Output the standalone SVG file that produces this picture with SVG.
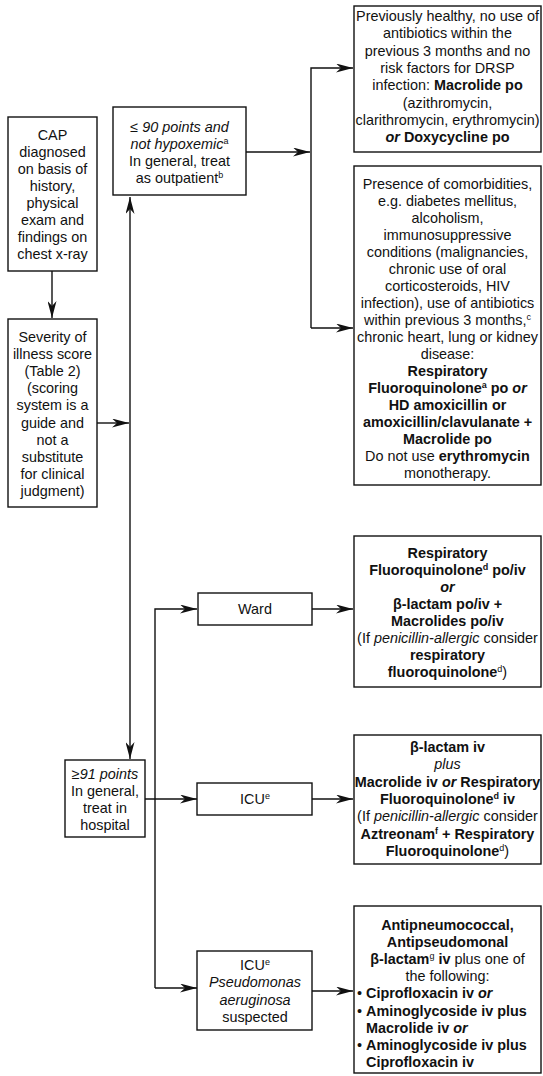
<svg xmlns="http://www.w3.org/2000/svg" width="543" height="1076" viewBox="0 0 543 1076">
<style>
text{font-family:"Liberation Sans",Arial,Helvetica,sans-serif;font-size:14.4px;fill:#111;text-anchor:middle}
text.l{text-anchor:start}
.b{font-weight:bold}
.i{font-style:italic}
.sup{font-size:9px}
rect{fill:#fff;stroke:#111;stroke-width:1.4}
.c path{fill:none;stroke:#111;stroke-width:1.4}
.arr{marker-end:url(#ah)}
</style>
<defs>
<marker id="ah" viewBox="0 0 17 9" markerWidth="17" markerHeight="9" refX="17" refY="4.5" markerUnits="userSpaceOnUse" orient="auto-start-reverse">
<path d="M0,0 L17,4.5 L0,9 L5,4.5 z" fill="#111"/>
</marker>
</defs>
<rect width="543" height="1076" style="stroke:none"/>

<g class="c" id="connectors">
<path class="arr" d="M52,271 V318"/>
<path class="arr" d="M97,423 H129"/>
<path d="M130,197 V759" style="marker-start:url(#ah);marker-end:url(#ah)"/>
<path class="arr" d="M246,152 H310"/>
<path class="arr" d="M311,328 V68 H353"/>
<path class="arr" d="M311,328 H353"/>
<path class="arr" d="M155,988 V609 H197"/>
<path class="arr" d="M155,988 H197"/>
<path class="arr" d="M145,799 H197"/>
<path class="arr" d="M312,609 H353"/>
<path class="arr" d="M312,799 H353"/>
<path class="arr" d="M312,991 H353"/>
</g>

<g id="cap">
<rect x="8" y="117" width="89" height="154"/>
<text x="52.5" y="140">CAP</text>
<text x="52.5" y="157">diagnosed</text>
<text x="52.5" y="174">on basis of</text>
<text x="52.5" y="191">history,</text>
<text x="52.5" y="208">physical</text>
<text x="52.5" y="225">exam and</text>
<text x="52.5" y="242">findings on</text>
<text x="52.5" y="259">chest x-ray</text>
</g>

<g id="severity">
<rect x="8" y="319" width="89" height="188"/>
<text x="52.5" y="342">Severity of</text>
<text x="52.5" y="359">illness score</text>
<text x="52.5" y="376">(Table 2)</text>
<text x="52.5" y="393">(scoring</text>
<text x="52.5" y="410">system is a</text>
<text x="52.5" y="427.5">guide and</text>
<text x="52.5" y="444.5">not a</text>
<text x="52.5" y="461.5">substitute</text>
<text x="52.5" y="478.5">for clinical</text>
<text x="52.5" y="495.5">judgment)</text>
</g>

<g id="outpatient">
<rect x="113" y="107" width="133" height="88"/>
<text x="179.5" y="132" class="i">≤ 90 points and</text>
<text x="179.5" y="149"><tspan class="i">not hypoxemic</tspan><tspan class="sup" dy="-5">a</tspan></text>
<text x="179.5" y="166">In general, treat</text>
<text x="179.5" y="183">as outpatient<tspan class="sup" dy="-5">b</tspan></text>
</g>

<g id="hospital">
<rect x="65" y="760" width="80" height="77"/>
<text x="105" y="779" class="i">≥91 points</text>
<text x="105" y="796">In general,</text>
<text x="105" y="813">treat in</text>
<text x="105" y="830">hospital</text>
</g>

<g id="healthy">
<rect x="354" y="6" width="187" height="146"/>
<text x="447.5" y="21">Previously healthy, no use of</text>
<text x="447.5" y="38.3">antibiotics within the</text>
<text x="447.5" y="55.6">previous 3 months and no</text>
<text x="447.5" y="72.9">risk factors for DRSP</text>
<text x="447.5" y="90.2">infection: <tspan class="b">Macrolide po</tspan></text>
<text x="447.5" y="107.5">(azithromycin,</text>
<text x="447.5" y="124.8">clarithromycin, erythromycin)</text>
<text x="447.5" y="142.1" class="b"><tspan class="i">or</tspan> Doxycycline po</text>
</g>

<g id="comorbid">
<rect x="354" y="166" width="187" height="319"/>
<text x="447.5" y="188.5">Presence of comorbidities,</text>
<text x="447.5" y="205.5">e.g. diabetes mellitus,</text>
<text x="447.5" y="222.5">alcoholism,</text>
<text x="447.5" y="239.5">immunosuppressive</text>
<text x="447.5" y="256.5">conditions (malignancies,</text>
<text x="447.5" y="273.5">chronic use of oral</text>
<text x="447.5" y="290.5">corticosteroids, HIV</text>
<text x="447.5" y="307.5">infection), use of antibiotics</text>
<text x="447.5" y="324.5">within previous 3 months,<tspan class="sup" dy="-5">c</tspan></text>
<text x="447.5" y="341.5">chronic heart, lung or kidney</text>
<text x="447.5" y="358.5">disease:</text>
<text x="447.5" y="375.5" class="b">Respiratory</text>
<text x="447.5" y="392.5" class="b">Fluoroquinolone<tspan class="sup" dy="-5">a</tspan><tspan dy="5">  po </tspan><tspan class="i">or</tspan></text>
<text x="447.5" y="409.5" class="b">HD amoxicillin or</text>
<text x="447.5" y="426.5" class="b">amoxicillin/clavulanate +</text>
<text x="447.5" y="443.5" class="b">Macrolide po</text>
<text x="447.5" y="460.5">Do not use <tspan class="b">erythromycin</tspan></text>
<text x="447.5" y="477.5">monotherapy.</text>
</g>

<g id="ward">
<rect x="198" y="593" width="114" height="32"/>
<text x="255" y="614">Ward</text>
</g>

<g id="ward-tx">
<rect x="354" y="536" width="187" height="151"/>
<text x="447.5" y="558" class="b">Respiratory</text>
<text x="447.5" y="575" class="b">Fluoroquinolone<tspan class="sup" dy="-5">d</tspan><tspan dy="5"> po/iv</tspan></text>
<text x="447.5" y="592" class="b i">or</text>
<text x="447.5" y="609" class="b">β-lactam po/iv +</text>
<text x="447.5" y="626" class="b">Macrolides po/iv</text>
<text x="447.5" y="643">(If <tspan class="i">penicillin-allergic</tspan> consider</text>
<text x="447.5" y="660" class="b">respiratory</text>
<text x="447.5" y="677"><tspan class="b">fluoroquinolone</tspan><tspan class="sup" dy="-5">d</tspan><tspan dy="5">)</tspan></text>
</g>

<g id="icu">
<rect x="197" y="783" width="115" height="32"/>
<text x="255" y="804">ICU<tspan class="sup" dy="-5">e</tspan></text>
</g>

<g id="icu-tx">
<rect x="354" y="735" width="187" height="129"/>
<text x="447.5" y="752" class="b">β-lactam iv</text>
<text x="447.5" y="769.3" class="i">plus</text>
<text x="447.5" y="786.6" class="b">Macrolide iv <tspan class="i">or</tspan> Respiratory</text>
<text x="447.5" y="803.9" class="b">Fluoroquinolone<tspan class="sup" dy="-5">d</tspan><tspan dy="5"> iv</tspan></text>
<text x="447.5" y="821.2">(If <tspan class="i">penicillin-allergic</tspan> consider</text>
<text x="447.5" y="838.5" class="b">Aztreonam<tspan class="sup" dy="-5">f</tspan><tspan dy="5"> + Respiratory</tspan></text>
<text x="447.5" y="855.8"><tspan class="b">Fluoroquinolone</tspan><tspan class="sup" dy="-5">d</tspan><tspan dy="5">)</tspan></text>
</g>

<g id="icu-pseudo">
<rect x="197" y="951" width="115" height="79"/>
<text x="255" y="970">ICU<tspan class="sup" dy="-5">e</tspan></text>
<text x="255" y="987.3" class="i">Pseudomonas</text>
<text x="255" y="1004.6" class="i">aeruginosa</text>
<text x="255" y="1021.9">suspected</text>
</g>

<g id="pseudo-tx">
<rect x="354" y="906" width="187" height="167"/>
<text x="447.5" y="930" class="b">Antipneumococcal,</text>
<text x="447.5" y="947.1" class="b">Antipseudomonal</text>
<text x="447.5" y="964.2"><tspan class="b">β-lactam</tspan><tspan class="sup" dy="-5">g</tspan><tspan dy="5" class="b"> iv</tspan> plus one of</text>
<text x="447.5" y="981.3">the following:</text>
<text x="357" y="998.4" class="l">•</text>
<text x="366" y="998.4" class="l b">Ciprofloxacin iv <tspan class="i">or</tspan></text>
<text x="357" y="1015.5" class="l">•</text>
<text x="366" y="1015.5" class="l b">Aminoglycoside iv plus</text>
<text x="366" y="1032.6" class="l b">Macrolide iv <tspan class="i">or</tspan></text>
<text x="357" y="1049.7" class="l">•</text>
<text x="366" y="1049.7" class="l b">Aminoglycoside iv plus</text>
<text x="366" y="1066.8" class="l b">Ciprofloxacin iv</text>
</g>
</svg>
